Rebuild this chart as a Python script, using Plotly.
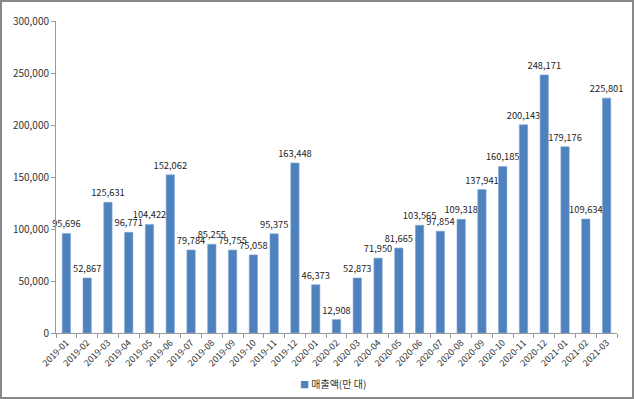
import plotly.graph_objects as go

months = ["2019-01","2019-02","2019-03","2019-04","2019-05","2019-06","2019-07","2019-08","2019-09","2019-10","2019-11","2019-12",
          "2020-01","2020-02","2020-03","2020-04","2020-05","2020-06","2020-07","2020-08","2020-09","2020-10","2020-11","2020-12",
          "2021-01","2021-02","2021-03"]
sales = [95696,52867,125631,96771,104422,152062,79784,85255,79755,75058,95375,163448,
         46373,12908,52873,71950,81665,103565,97854,109318,137941,160185,200143,248171,
         179176,109634,225801]
series_name = "매출액(만 대)"
y_ticks = [0,50000,100000,150000,200000,250000,300000]

W, H = 634, 399
L, R, T, B = 56, 17, 21, 66
pw, ph = W - L - R, H - T - B
BLUE = "#4F81BD"

fig = go.Figure()
fig.add_trace(go.Bar(
    x=months, y=sales, name=series_name,
    marker=dict(color=BLUE, line=dict(color="#7EA6D6", width=0.6)),
    text=[f"{v:,}" for v in sales], textposition="outside",
    textfont=dict(size=9.3, color="#222"), cliponaxis=False,
    constraintext="none", showlegend=False,
))
fig.update_layout(
    width=W, height=H,
    margin=dict(l=L, r=R, t=T, b=B, autoexpand=False),
    paper_bgcolor="white", plot_bgcolor="white",
    font=dict(family="Noto Sans CJK KR, Noto Sans, sans-serif", size=10, color="#333"),
    bargap=0.6,
    showlegend=False,
    xaxis=dict(type="category", tickangle=-45, tickfont=dict(size=9, color="#333"),
               showline=True, linecolor="#999", ticks="outside", ticklen=4, tickcolor="#999",
               tickson="boundaries", showgrid=False, automargin=False),
    yaxis=dict(range=[0, 300000], tickvals=y_ticks, tickformat=",",
               tickfont=dict(size=10, color="#333"), showline=True, linecolor="#999",
               ticks="outside", ticklen=4, tickcolor="#999", showgrid=False, zeroline=False,
               automargin=False),
    annotations=[dict(xref="paper", yref="paper", x=(333 - L) / pw, y=(333 - 383) / ph,
                      xanchor="center", yanchor="middle", showarrow=False,
                      text=f"<span style='color:{BLUE};font-size:9px'>■</span> {series_name}",
                      font=dict(size=10, color="#333"))],
    shapes=[dict(type="rect", xref="paper", yref="paper",
                 x0=-(L - 1) / pw, x1=1 + (R - 1) / pw,
                 y0=-(B - 1) / ph, y1=1 + (T - 1) / ph,
                 line=dict(color="#888", width=2), layer="above")],
)
fig.write_html("out.html", config={"displayModeBar": False},
               post_script="document.body.style.margin='0';document.body.style.overflow='hidden';")
